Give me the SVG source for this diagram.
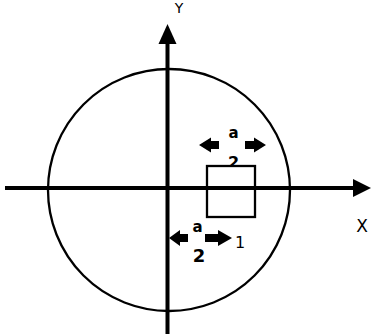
<svg xmlns="http://www.w3.org/2000/svg" width="372" height="334" viewBox="0 0 372 334">
<style>
.ax{stroke:#000;stroke-width:4;fill:none}
.thin{stroke:#000;stroke-width:2.3;fill:none}
.ah{fill:#000}
text{font-family:"DejaVu Sans","Liberation Sans",sans-serif;fill:#000;text-anchor:middle}
.b{font-weight:bold}
</style>
<defs><clipPath id="above"><rect x="0" y="0" width="372" height="165"/></clipPath></defs>
<rect width="372" height="334" fill="#fff"/>
<g id="circle"><circle class="thin" cx="169" cy="190" r="121"/></g>
<g id="connectors">
<line class="ax" x1="5" y1="188" x2="356" y2="188"/>
<polygon class="ah" points="353,179 371,188 353,197"/>
<line class="ax" x1="167.5" y1="334" x2="167.5" y2="42"/>
<polygon class="ah" points="158.5,44 167.5,24 176.5,44"/>
</g>
<g id="square"><rect class="thin" x="207" y="166" width="48" height="51" stroke-width="2.5"/><circle cx="233" cy="188" r="2" fill="#000"/></g>
<g id="dim-top">
<polygon class="ah" points="199,145 211,137.5 211,141 219,141 219,149 211,149 211,152.5"/>
<polygon class="ah" points="266,145 254,137.5 254,141 245,141 245,149 254,149 254,152.5"/>
<text class="b" x="233.5" y="137.5" font-size="15">a</text>
<text class="b" x="233.5" y="168" font-size="16" clip-path="url(#above)">2</text>
</g>
<g id="dim-bottom">
<polygon class="ah" points="169,238 180,230 180,234 188,234 188,242 180,242 180,246"/>
<polygon class="ah" points="232,238 218,230 218,234 205,234 205,242 218,242 218,246"/>
<text class="b" x="197.5" y="232" font-size="15">a</text>
<text class="b" x="199" y="262" font-size="18">2</text>
<text x="240" y="248" font-size="16">1</text>
</g>
<g id="labels">
<text x="179" y="13" font-size="14">Y</text>
<text x="362" y="232" font-size="17">X</text>
</g>
</svg>
